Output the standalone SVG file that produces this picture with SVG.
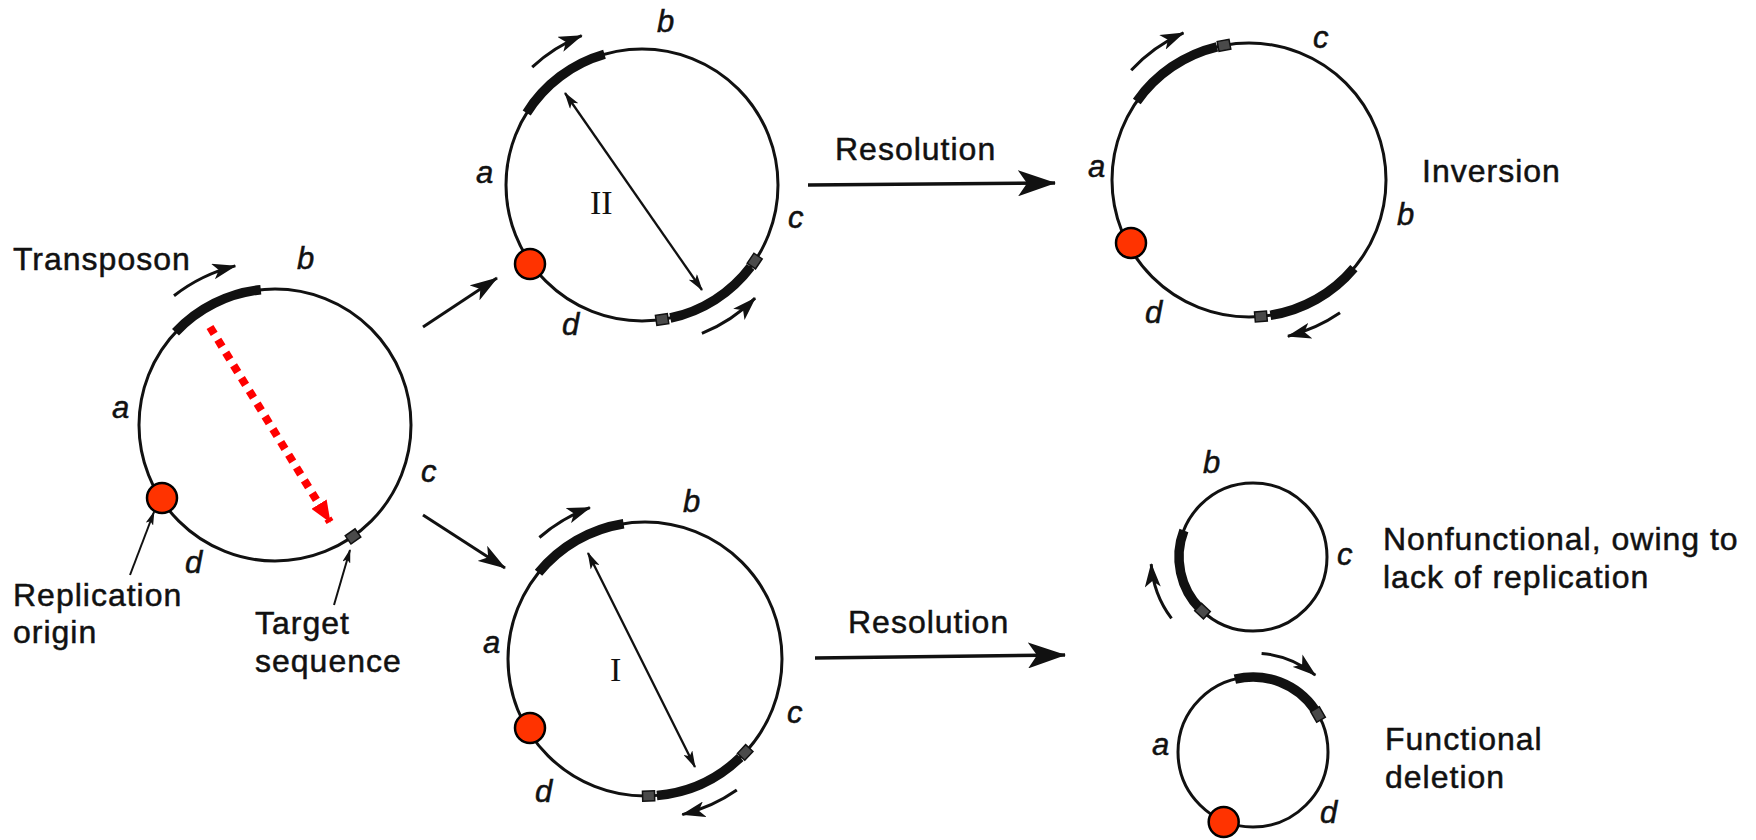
<svg xmlns="http://www.w3.org/2000/svg" width="1756" height="840" viewBox="0 0 1756 840">
<defs>
<style>
.bb{fill:none;stroke:#111;stroke-width:3}
.thick{fill:none;stroke:#111;stroke-width:9.5;stroke-linecap:butt}
.curv{fill:none;stroke:#111;stroke-width:3;marker-end:url(#ah)}
.dbl{fill:none;stroke:#111;stroke-width:2.3;marker-start:url(#th);marker-end:url(#th)}
.ptr{fill:none;stroke:#111;stroke-width:2;marker-end:url(#ph)}
.conn{fill:none;stroke:#111;stroke-width:3;marker-end:url(#ch)}
.res{fill:none;stroke:#111;stroke-width:3.5;marker-end:url(#rh)}
.lbl{font-family:"Liberation Sans",Arial,sans-serif;font-size:32px;letter-spacing:1px;fill:#111;stroke:#111;stroke-width:0.5}
.it{font-family:"Liberation Sans",Arial,sans-serif;font-style:italic;font-size:31px;fill:#111;stroke:#111;stroke-width:0.5}
.rom{font-family:"Liberation Serif","Times New Roman",serif;font-size:34px;fill:#111}
.ori{fill:#ff3300;stroke:#000;stroke-width:2.5}
.seq{fill:#4a4a4a;stroke:#111;stroke-width:1.5}
</style>
<marker id="ah" markerUnits="userSpaceOnUse" viewBox="0 0 24 16" markerWidth="24" markerHeight="16" refX="23" refY="8" orient="auto"><path d="M0,0 L24,8 L0,16 L6,8 z" fill="#111"/></marker>
<marker id="th" markerUnits="userSpaceOnUse" viewBox="0 0 17 10" markerWidth="17" markerHeight="10" refX="16" refY="5" orient="auto-start-reverse"><path d="M0,0 L17,5 L0,10 L4,5 z" fill="#111"/></marker>
<marker id="ph" markerUnits="userSpaceOnUse" viewBox="0 0 14 8" markerWidth="14" markerHeight="8" refX="13" refY="4" orient="auto"><path d="M0,0 L14,4 L0,8 L3,4 z" fill="#111"/></marker>
<marker id="ch" markerUnits="userSpaceOnUse" viewBox="0 0 28 18" markerWidth="28" markerHeight="18" refX="27" refY="9" orient="auto"><path d="M0,0 L28,9 L0,18 L7,9 z" fill="#111"/></marker>
<marker id="rh" markerUnits="userSpaceOnUse" viewBox="0 0 38 26" markerWidth="38" markerHeight="26" refX="37" refY="13" orient="auto"><path d="M0,0 L38,13 L0,26 L9,13 z" fill="#111"/></marker>
<marker id="redh" markerUnits="userSpaceOnUse" viewBox="0 0 22 18" markerWidth="22" markerHeight="18" refX="21" refY="9" orient="auto"><path d="M0,0 L22,9 L0,18 z" fill="#f00"/></marker>
</defs>
<rect width="1756" height="840" fill="#fff"/>

<g id="plasmid-original">
<circle class="bb" cx="275" cy="425" r="136"/>
<path class="thick" d="M175.5,332.2 A136,136 0 0 1 260.8,289.7"/>
<path class="curv" d="M174,295.8 A164,164 0 0 1 235.3,265.9"/>
<rect class="seq" x="-6" y="-5" width="12" height="10" transform="translate(353,536.4) rotate(145)"/>
<circle class="ori" cx="162" cy="498" r="15"/>
<line x1="210" y1="327" x2="330" y2="522" stroke="#f00" stroke-width="8" stroke-dasharray="8 7" marker-end="url(#redh)"/>
<path class="ptr" d="M130,575 L154,512"/>
<path class="ptr" d="M334,605 L350,550"/>
<text class="lbl" x="13" y="270">Transposon</text>
<text class="it" x="297" y="269">b</text>
<text class="it" x="112" y="418">a</text>
<text class="it" x="421" y="482">c</text>
<text class="it" x="185" y="573">d</text>
<text class="lbl" x="13" y="606">Replication</text>
<text class="lbl" x="13" y="643">origin</text>
<text class="lbl" x="255" y="634">Target</text>
<text class="lbl" x="255" y="672">sequence</text>
</g>

<g id="cointegrate-II">
<circle class="bb" cx="642" cy="185" r="136"/>
<path class="thick" d="M526.7,112.9 A136,136 0 0 1 604.5,54.3"/>
<path class="curv" d="M532.2,67.2 A161,161 0 0 1 581.7,35.7"/>
<path class="thick" d="M670.3,318 A136,136 0 0 0 750.6,266.8"/>
<rect class="seq" x="-6" y="-5" width="12" height="10" transform="translate(754.7,261.1) rotate(124)"/>
<rect class="seq" x="-6" y="-5" width="12" height="10" transform="translate(662.1,319.5) rotate(171.5)"/>
<path class="curv" d="M701.9,333.4 A160,160 0 0 0 755.1,298.1"/>
<circle class="ori" cx="530" cy="264" r="15"/>
<path class="dbl" d="M565,93 L702,290"/>
<text class="rom" x="590" y="214">II</text>
<text class="it" x="657" y="32">b</text>
<text class="it" x="476" y="183">a</text>
<text class="it" x="788" y="228">c</text>
<text class="it" x="562" y="335">d</text>
</g>

<g id="inversion-product">
<circle class="bb" cx="1249" cy="180" r="137"/>
<path class="thick" d="M1136.8,101.4 A137,137 0 0 1 1217,46.8"/>
<rect class="seq" x="-6" y="-5" width="12" height="10" transform="translate(1224,45.3) rotate(349.5)"/>
<path class="curv" d="M1131.2,70.2 A161,161 0 0 1 1183.5,32.9"/>
<path class="thick" d="M1353.9,268.1 A137,137 0 0 1 1270.4,315.3"/>
<rect class="seq" x="-6" y="-5" width="12" height="10" transform="translate(1260.9,316.5) rotate(175)"/>
<path class="curv" d="M1340,312.8 A161,161 0 0 1 1287.9,336.2"/>
<circle class="ori" cx="1131" cy="243" r="15"/>
<text class="it" x="1313" y="48">c</text>
<text class="it" x="1088" y="177">a</text>
<text class="it" x="1397" y="225">b</text>
<text class="it" x="1145" y="323">d</text>
<text class="lbl" x="1422" y="182">Inversion</text>
</g>

<g id="cointegrate-I">
<circle class="bb" cx="645" cy="659" r="137"/>
<path class="thick" d="M538.5,572.8 A137,137 0 0 1 623.6,523.7"/>
<path class="curv" d="M539.4,537.5 A161,161 0 0 1 589.9,507.7"/>
<path class="thick" d="M740.2,757.5 A137,137 0 0 1 656.9,795.5"/>
<rect class="seq" x="-6" y="-5" width="12" height="10" transform="translate(745.2,752.4) rotate(133)"/>
<rect class="seq" x="-6" y="-5" width="12" height="10" transform="translate(648.6,796) rotate(178.5)"/>
<path class="curv" d="M736.8,790.1 A160,160 0 0 1 682.3,814.6"/>
<circle class="ori" cx="530" cy="728" r="15"/>
<path class="dbl" d="M588,553 L695,767"/>
<text class="rom" x="610" y="681">I</text>
<text class="it" x="683" y="512">b</text>
<text class="it" x="483" y="653">a</text>
<text class="it" x="787" y="723">c</text>
<text class="it" x="535" y="802">d</text>
</g>

<g id="deletion-nonfunctional">
<circle class="bb" cx="1253" cy="557" r="74"/>
<path class="thick" d="M1200.7,609.3 A74,74 0 0 1 1183.9,530.5"/>
<rect class="seq" x="-6" y="-5" width="12" height="10" transform="translate(1202.5,611.1) rotate(223)"/>
<path class="curv" d="M1171.5,618.4 A102,102 0 0 1 1151.2,564.1"/>
<text class="it" x="1203" y="473">b</text>
<text class="it" x="1337" y="565">c</text>
<text class="lbl" x="1383" y="550">Nonfunctional, owing to</text>
<text class="lbl" x="1383" y="588">lack of replication</text>
</g>

<g id="deletion-functional">
<circle class="bb" cx="1253" cy="752" r="75"/>
<path class="thick" d="M1234.9,679.2 A75,75 0 0 1 1315.2,710.1"/>
<rect class="seq" x="-6" y="-5" width="12" height="10" transform="translate(1318,714.5) rotate(60)"/>
<path class="curv" d="M1261.6,653.4 A99,99 0 0 1 1315.3,675.1"/>
<circle class="ori" cx="1223.7" cy="822" r="15"/>
<text class="it" x="1152" y="755">a</text>
<text class="it" x="1320" y="823">d</text>
<text class="lbl" x="1385" y="750">Functional</text>
<text class="lbl" x="1385" y="788">deletion</text>
</g>

<g id="connectors">
<path class="conn" d="M423,327 L497,278"/>
<path class="conn" d="M423,515 L505,568"/>
<path class="res" d="M808,185 L1055,183"/>
<text class="lbl" x="835" y="160">Resolution</text>
<path class="res" d="M815,658 L1065,655"/>
<text class="lbl" x="848" y="633">Resolution</text>
</g>
</svg>
